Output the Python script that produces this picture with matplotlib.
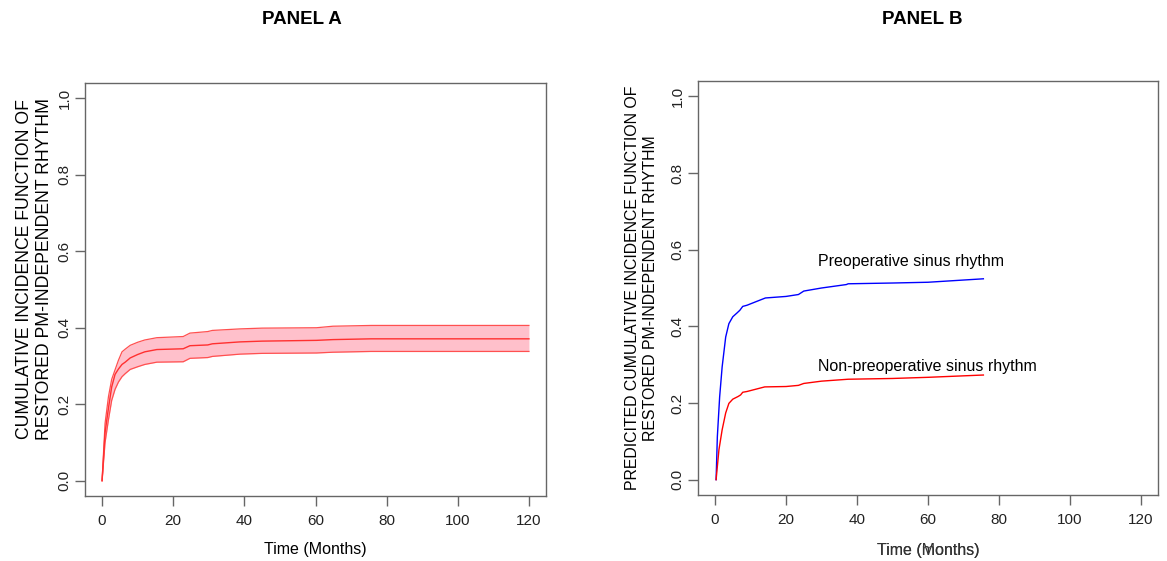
import numpy as np
import matplotlib
matplotlib.use("Agg")
import matplotlib.pyplot as plt

plt.rcParams['font.family'] = ['Liberation Sans', 'DejaVu Sans']

# Panel A: cumulative incidence with confidence band
t_a = [0, 0.84, 1.8, 2.7, 3.65, 4.6, 5.6, 6.5, 7.9, 10, 12, 15.4, 22.8, 24.7, 29.7, 31, 38.8, 45, 60.3, 64.9, 75.7, 120]
est_a = [0, 0.126, 0.19, 0.245, 0.278, 0.292, 0.304, 0.31, 0.321, 0.33, 0.337, 0.343, 0.345, 0.353, 0.355, 0.358, 0.363, 0.365, 0.367, 0.369, 0.371, 0.371]
upr_a = [0, 0.15, 0.22, 0.265, 0.29, 0.315, 0.337, 0.344, 0.354, 0.362, 0.368, 0.374, 0.377, 0.386, 0.39, 0.393, 0.397, 0.399, 0.4, 0.404, 0.406, 0.406]
lwr_a = [0, 0.10, 0.16, 0.21, 0.239, 0.258, 0.272, 0.28, 0.291, 0.298, 0.304, 0.31, 0.311, 0.32, 0.322, 0.325, 0.331, 0.333, 0.334, 0.336, 0.338, 0.338]

# Panel B: predicted cumulative incidence by group
t_sr = [0.3, 0.65, 1.3, 2, 3, 3.9, 5, 6.2, 7.0, 7.8, 9, 12, 14.2, 20, 23.5, 25, 30, 37, 37.5, 50, 60, 75.6]
cif_sr = [0, 0.112, 0.216, 0.294, 0.372, 0.407, 0.425, 0.435, 0.442, 0.452, 0.455, 0.466, 0.474, 0.478, 0.483, 0.492, 0.50, 0.509, 0.511, 0.513, 0.515, 0.524]
t_nsr = [0.3, 1.1, 2, 3, 3.9, 5, 6.5, 7.2, 7.8, 9, 11.5, 14, 20, 23.5, 25, 30, 37.5, 50, 60, 75.6]
cif_nsr = [0, 0.078, 0.13, 0.174, 0.199, 0.21, 0.217, 0.221, 0.228, 0.23, 0.236, 0.242, 0.243, 0.246, 0.251, 0.257, 0.262, 0.264, 0.267, 0.273]

xticks = [0, 20, 40, 60, 80, 100, 120]
yticks = [0.0, 0.2, 0.4, 0.6, 0.8, 1.0]

fig = plt.figure(figsize=(11.67, 5.61), dpi=100)
ax1 = fig.add_axes([85/1167, 1-496/561, 461/1167, 413/561])
ax2 = fig.add_axes([698/1167, 1-495/561, 460/1167, 414/561])


def style(ax):
    ax.set_xlim(-4.8, 124.8)
    ax.set_ylim(-0.04, 1.04)
    ax.set_xticks(xticks)
    ax.set_yticks(yticks)
    ax.set_yticklabels(['%.1f' % v for v in yticks], rotation=90, va='center')
    for s in ax.spines.values():
        s.set_color('#666666')
        s.set_linewidth(1.0)
    ax.tick_params(direction='out', length=7, width=1, color='#666666',
                   labelsize=11, labelcolor='#222222', pad=6)
    ax.tick_params(axis='y', pad=2.5)


style(ax1)
ax1.fill_between(t_a, lwr_a, upr_a, color='#ffc0cb', lw=0)
ax1.plot(t_a, upr_a, color='#ff5050', lw=0.9)
ax1.plot(t_a, lwr_a, color='#ff5050', lw=0.9)
ax1.plot(t_a, est_a, color='#ff3030', lw=1.0)
ax1.set_xlabel('Time (Months)', fontsize=11.5, labelpad=10)
ax1.set_ylabel('CUMULATIVE INCIDENCE FUNCTION OF\nRESTORED PM-INDEPENDENT RHYTHM',
               fontsize=12.7, linespacing=1.25)
ax1.yaxis.set_label_coords(-0.069, 0.55)

style(ax2)
ax2.plot(t_sr, cif_sr, color='blue', lw=1.0)
ax2.plot(t_nsr, cif_nsr, color='red', lw=1.0)
ax2.text(55.2, 0.569, 'Preoperative sinus rhythm', fontsize=11.5, ha='center', va='center')
ax2.text(59.7, 0.296, 'Non-preoperative sinus rhythm', fontsize=11.5, ha='center', va='center')
# two x labels drawn on top of each other, as in the original
ax2.text(0.5, -0.135, 'Time (months)', transform=ax2.transAxes, fontsize=11.5,
         ha='center', va='center', color='#333333')
ax2.text(0.5, -0.135, 'Time (Months)', transform=ax2.transAxes, fontsize=11.5,
         ha='center', va='center', color='#333333')
ax2.set_ylabel('PREDICITED CUMULATIVE INCIDENCE FUNCTION OF\nRESTORED PM-INDEPENDENT RHYTHM',
               fontsize=11.4, linespacing=1.25)
ax2.yaxis.set_label_coords(-0.088, 0.5)

fig.text(302/1167, 1-19.5/561, 'PANEL A', fontsize=13.5, fontweight='bold', ha='center', va='center')
fig.text(922/1167, 1-19.5/561, 'PANEL B', fontsize=13.5, fontweight='bold', ha='center', va='center')

fig.savefig('out.png', dpi=100)
